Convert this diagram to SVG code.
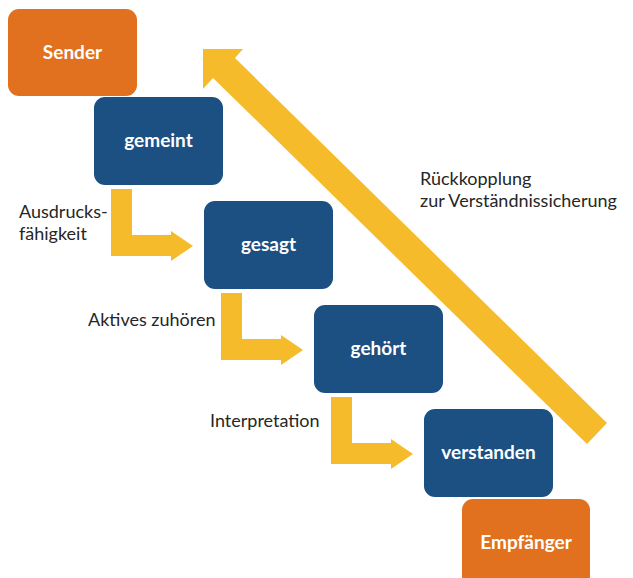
<svg xmlns="http://www.w3.org/2000/svg" xmlns:xlink="http://www.w3.org/1999/xlink" width="633" height="578" viewBox="0 0 633 578">
  <style>
    .orange { fill: #E2711F; }
    .blue { fill: #1C4F82; }
    .flow { fill: #F6BB2A; }
    .node-label { font-family: Lato, "Open Sans", "Liberation Sans", sans-serif; font-weight: bold; font-size: 19px; fill: #FFFFFF; text-anchor: middle; }
    .label { font-family: Lato, "Open Sans", "Liberation Sans", sans-serif; font-size: 18px; fill: #262626; }
  </style>
  <defs>
    <!-- L-shaped step arrow: down from a box, then right into the next one -->
    <path id="step-arrow" d="M111,189 H132 V235 H171 V231 L193,246 L171,261 V256 H111 Z"/>
  </defs>

  <g id="connectors">
    <use xlink:href="#step-arrow" class="flow"/>
    <use xlink:href="#step-arrow" class="flow" transform="translate(110,104)"/>
    <use xlink:href="#step-arrow" class="flow" transform="translate(220,208)"/>
    <!-- feedback arrow from receiver back to sender -->
    <polygon class="flow" points="203,49 243,49 235,58 607,423 587,444 213,78 203,89"/>
  </g>

  <g id="sender">
    <rect class="orange" x="8" y="9" width="129" height="87" rx="11"/>
    <text class="node-label" x="72.5" y="59">Sender</text>
  </g>
  <g id="gemeint">
    <rect class="blue" x="94" y="97" width="129" height="88" rx="11"/>
    <text class="node-label" x="158.5" y="147">gemeint</text>
  </g>
  <g id="gesagt">
    <rect class="blue" x="204" y="201" width="129" height="88" rx="11"/>
    <text class="node-label" x="268.5" y="251">gesagt</text>
  </g>
  <g id="gehoert">
    <rect class="blue" x="314" y="305" width="129" height="88" rx="11"/>
    <text class="node-label" x="378.5" y="355">gehört</text>
  </g>
  <g id="verstanden">
    <rect class="blue" x="424" y="409" width="129" height="88" rx="11"/>
    <text class="node-label" x="488.5" y="459">verstanden</text>
  </g>
  <g id="empfaenger">
    <rect class="orange" x="462" y="499" width="128" height="88" rx="11"/>
    <text class="node-label" x="526" y="549">Empfänger</text>
  </g>

  <g id="labels">
    <text class="label" x="19" y="218">Ausdrucks-</text>
    <text class="label" x="19" y="240">fähigkeit</text>
    <text class="label" x="88" y="326">Aktives zuhören</text>
    <text class="label" x="210" y="427">Interpretation</text>
    <text class="label" x="420" y="185">Rückkopplung</text>
    <text class="label" x="420" y="207">zur Verständnissicherung</text>
  </g>
</svg>
